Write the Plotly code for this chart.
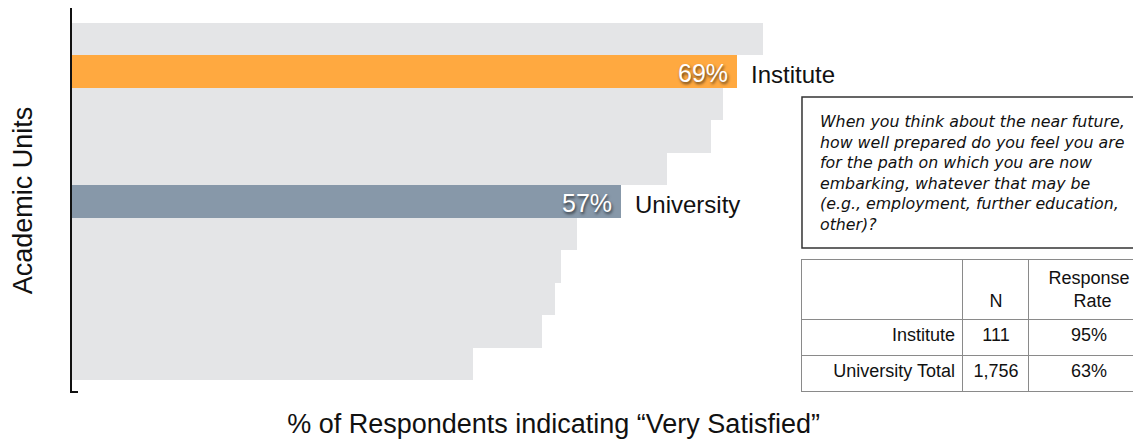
import plotly.graph_objects as go

# ---- data ----
units = ["Unit A", "Institute", "Unit B", "Unit C", "Unit D", "University",
         "Unit E", "Unit F", "Unit G", "Unit H", "Unit I"]
pct_very_satisfied = [71.8, 69.0, 67.6, 66.3, 61.8, 57.0, 52.4, 50.8, 50.2, 48.8, 41.6]
highlight = {"Institute": "#FFA940", "University": "#8798A9"}
highlight_labels = ["Institute", "University"]

question_lines = [
    "When you think about the near future,",
    "how well prepared do you feel you are",
    "for the path on which you are now",
    "embarking, whatever that may be",
    "(e.g., employment, further education,",
    "other)?",
]
table_header = ["", "\u00a0<br>N", "Response<br>\u00a0\u00a0\u00a0\u00a0\u00a0Rate"]
table_groups = ["Institute", "University Total"]
table_n = ["111", "1,756"]
table_rate = ["95%", "63%"]

FONT = "Liberation Sans, Arial, sans-serif"
GREY = "#E4E5E7"

colors = [highlight.get(u, GREY) for u in units]

fig = go.Figure()
fig.add_trace(go.Bar(
    x=pct_very_satisfied, y=units, orientation="h",
    marker=dict(color=colors, line=dict(width=0)),
    hoverinfo="skip", showlegend=False,
))

# value labels inside highlighted bars + name labels outside
for name in highlight_labels:
    i = units.index(name)
    v = pct_very_satisfied[i]
    fig.add_annotation(
        x=v, y=name, xref="x", yref="y", text=f"{v:.0f}%",
        xanchor="right", yanchor="middle", xshift=-7, yshift=-1, showarrow=False,
        font=dict(family=FONT, size=25, color="white",
                  shadow="1px 2px 3px rgba(0,0,0,0.65)"),
    )
    fig.add_annotation(
        x=v, y=name, xref="x", yref="y", text=name,
        xanchor="left", yanchor="middle", xshift=12, yshift=-3, showarrow=False,
        font=dict(family=FONT, size=24, color="#111111"),
    )

# question box
fig.add_shape(type="rect", xref="paper", yref="paper",
              x0=0.6778, x1=1.02, y0=0.3766, y1=0.7688,
              line=dict(color="#333333", width=1.5), fillcolor="white")
fig.add_annotation(
    xref="paper", yref="paper", x=0.6927, y=0.5727,
    xanchor="left", yanchor="middle", align="left", showarrow=False,
    text="<br>".join(question_lines),
    font=dict(family="DejaVu Sans, sans-serif", size=15.8, color="#111111", style="italic"),
)

# summary table
fig.add_trace(go.Table(
    domain=dict(x=[0.6778, 1.0], y=[0.0, 0.3455]),
    columnwidth=[161, 66, 120],
    header=dict(values=table_header, height=60, align=["right", "center", "center"],
                fill_color="white", line=dict(color="#8a8a8a", width=1),
                font=dict(family=FONT, size=18, color="#111111")),
    cells=dict(values=[table_groups, table_n, table_rate], height=36,
               align=["right", "center", "center"],
               fill_color="white", line=dict(color="#8a8a8a", width=1),
               font=dict(family=FONT, size=18, color="#111111")),
))

# small end tick at bottom of the y axis line
fig.add_shape(type="line", xref="paper", yref="paper", x0=-0.001, x1=0.0056,
              y0=0.0026, y1=0.0026, line=dict(color="#111111", width=2))

fig.update_layout(
    width=1141, height=440,
    margin=dict(l=64, r=0, t=0, b=55),
    paper_bgcolor="white", plot_bgcolor="white",
    bargap=0,
    font=dict(family=FONT, color="#111111"),
    xaxis=dict(domain=[0, 0.8942], range=[0, 100], showgrid=False, zeroline=False,
               showticklabels=False, ticks="", showline=False,
               title=dict(text="% of Respondents indicating “Very Satisfied”",
                          font=dict(family=FONT, size=27, color="#111111"), standoff=21)),
    yaxis=dict(range=[10.9, -0.962], showgrid=False, zeroline=False,
               showticklabels=False, ticks="", showline=True,
               linecolor="#111111", linewidth=2,
               title=dict(text="Academic Units",
                          font=dict(family=FONT, size=27, color="#111111"), standoff=35)),
)

fig.write_html("out.html")
